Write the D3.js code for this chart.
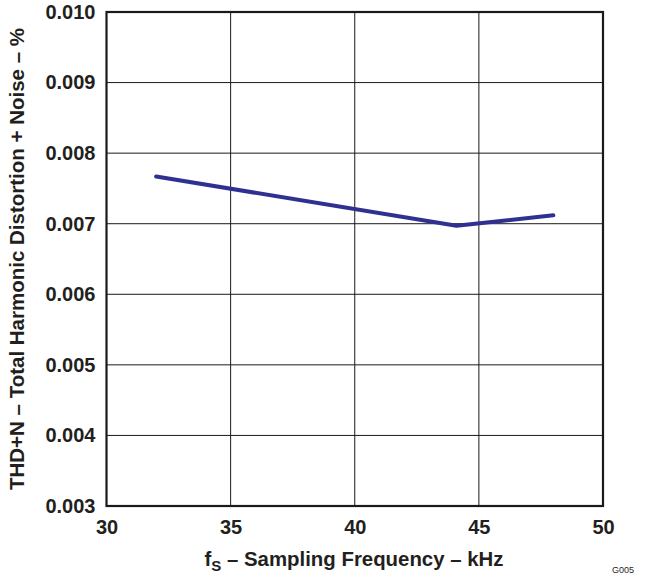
<!DOCTYPE html>
<html>
<head>
<meta charset="utf-8">
<script src="https://cdn.jsdelivr.net/npm/d3@7"></script>
<style>
  html, body { margin: 0; padding: 0; background: #fff; }
  svg { display: block; font-family: Arial, "Liberation Sans", Helvetica, sans-serif; }
</style>
</head>
<body>
<svg id="chart" width="645" height="575"></svg>
<script>
const freqKHz = [32, 44.1, 48];
const thdPct = [0.00767, 0.00697, 0.00712];
const xTicks = [30, 35, 40, 45, 50];
const yTicks = [0.003, 0.004, 0.005, 0.006, 0.007, 0.008, 0.009, 0.010];

const svg = d3.select("#chart");
const m = { left: 106.5, right: 603, top: 12, bottom: 506 };

const x = d3.scaleLinear().domain([30, 50]).range([m.left, m.right]);
const y = d3.scaleLinear().domain([0.003, 0.010]).range([m.bottom, m.top]);

// Grid
const grid = svg.append("g");
grid.selectAll("line.vx").data(xTicks.slice(1, -1)).join("line")
  .attr("x1", d => x(d)).attr("x2", d => x(d))
  .attr("y1", m.top).attr("y2", m.bottom)
  .attr("stroke", "#1a1a1a").attr("stroke-width", 1);
grid.selectAll("line.hy").data(yTicks.slice(1, -1)).join("line")
  .attr("x1", m.left).attr("x2", m.right)
  .attr("y1", d => y(d)).attr("y2", d => y(d))
  .attr("stroke", "#1a1a1a").attr("stroke-width", 1);

// Frame
svg.append("rect")
  .attr("x", m.left).attr("y", m.top)
  .attr("width", m.right - m.left).attr("height", m.bottom - m.top)
  .attr("fill", "none").attr("stroke", "#1a1a1a").attr("stroke-width", 2.2);

// Axes labels via d3 axes
const xAxis = d3.axisBottom(x).tickValues(xTicks).tickSize(0).tickPadding(14).tickFormat(d3.format("d"));
const gx = svg.append("g").attr("transform", `translate(0,${m.bottom})`).call(xAxis);
gx.select(".domain").remove();
gx.selectAll("text").attr("font-size", 20).attr("font-weight", "bold").attr("fill", "#231f20")
  .attr("font-family", "Arial, 'Liberation Sans', sans-serif");

const yAxis = d3.axisLeft(y).tickValues(yTicks).tickSize(0).tickPadding(11).tickFormat(d3.format(".3f"));
const gy = svg.append("g").attr("transform", `translate(${m.left},0)`).call(yAxis);
gy.select(".domain").remove();
gy.selectAll("text").attr("font-size", 20).attr("font-weight", "bold").attr("fill", "#231f20")
  .attr("font-family", "Arial, 'Liberation Sans', sans-serif");

// Data line
const line = d3.line().x((d, i) => x(freqKHz[i])).y(d => y(d));
svg.append("path").datum(thdPct)
  .attr("d", line)
  .attr("fill", "none").attr("stroke", "#2e3192").attr("stroke-width", 4)
  .attr("stroke-linejoin", "round").attr("stroke-linecap", "round");

// X title
const xt = svg.append("text")
  .attr("x", 354).attr("y", 566)
  .attr("text-anchor", "middle").attr("font-size", 20.4).attr("font-weight", "bold").attr("fill", "#231f20");
xt.append("tspan").text("f");
xt.append("tspan").attr("font-size", 15).attr("dy", 5).text("S");
xt.append("tspan").attr("dy", -5).text(" – Sampling Frequency – kHz");

// Y title
svg.append("text")
  .attr("transform", `translate(24,259) rotate(-90)`)
  .attr("text-anchor", "middle").attr("font-size", 20.5).attr("font-weight", "bold").attr("fill", "#231f20")
  .text("THD+N – Total Harmonic Distortion + Noise – %");

// Figure code
svg.append("text")
  .attr("x", 612).attr("y", 573)
  .attr("text-anchor", "start").attr("font-size", 9).attr("fill", "#231f20")
  .text("G005");
</script>
</body>
</html>
